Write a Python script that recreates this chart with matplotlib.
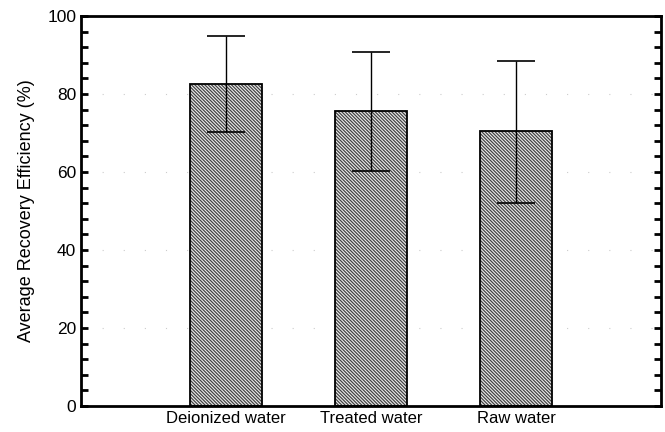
import matplotlib
matplotlib.use("Agg")
import matplotlib.pyplot as plt

plt.rcParams['font.family'] = ['Liberation Sans', 'DejaVu Sans']
plt.rcParams['hatch.linewidth'] = 0.9

categories = ["Deionized water", "Treated water", "Raw water"]
means = [82.6, 75.6, 70.5]
upper = [94.9, 90.8, 88.5]
lower = [70.3, 60.3, 52.1]

err_low = [m - l for m, l in zip(means, lower)]
err_high = [u - m for u, m in zip(upper, means)]
x = [1, 2, 3]

fig = plt.figure(figsize=(6.65, 4.32), dpi=100)
ax = fig.add_axes([0.1218, 0.0602, 0.8722, 0.9028])

# hatched fill
ax.bar(x, means, width=0.49, color='#eeeeee', edgecolor='#444444', linewidth=0,
       hatch='\\' * 10, zorder=2)
# outline
ax.bar(x, means, width=0.49, color='none', edgecolor='black', linewidth=1.3,
       zorder=2.5)
ax.errorbar(x, means, yerr=[err_low, err_high], fmt='none', ecolor='black',
            elinewidth=1.0, capsize=14, capthick=1.2, zorder=3)

ax.set_xlim(0, 4)
ax.set_ylim(0, 100)
ax.set_xticks(x)
ax.set_xticklabels(categories, fontsize=12)
ax.set_yticks([0, 20, 40, 60, 80, 100])
ax.set_yticks(range(0, 101, 4), minor=True)
ax.tick_params(axis='y', which='both', direction='in', left=True, right=True,
               length=5, width=2, labelsize=12.5)
ax.tick_params(axis='x', which='both', direction='in', length=4, width=1.2,
               bottom=True, top=False)
ax.set_ylabel("Average Recovery Efficiency (%)", fontsize=13, labelpad=9)

for sp in ax.spines.values():
    sp.set_linewidth(2)

ax.yaxis.grid(True, which='major', color='#cccccc', linestyle=(0, (1, 18)),
              linewidth=0.8, zorder=0)
ax.set_axisbelow(True)

fig.savefig("out.png", dpi=100)
